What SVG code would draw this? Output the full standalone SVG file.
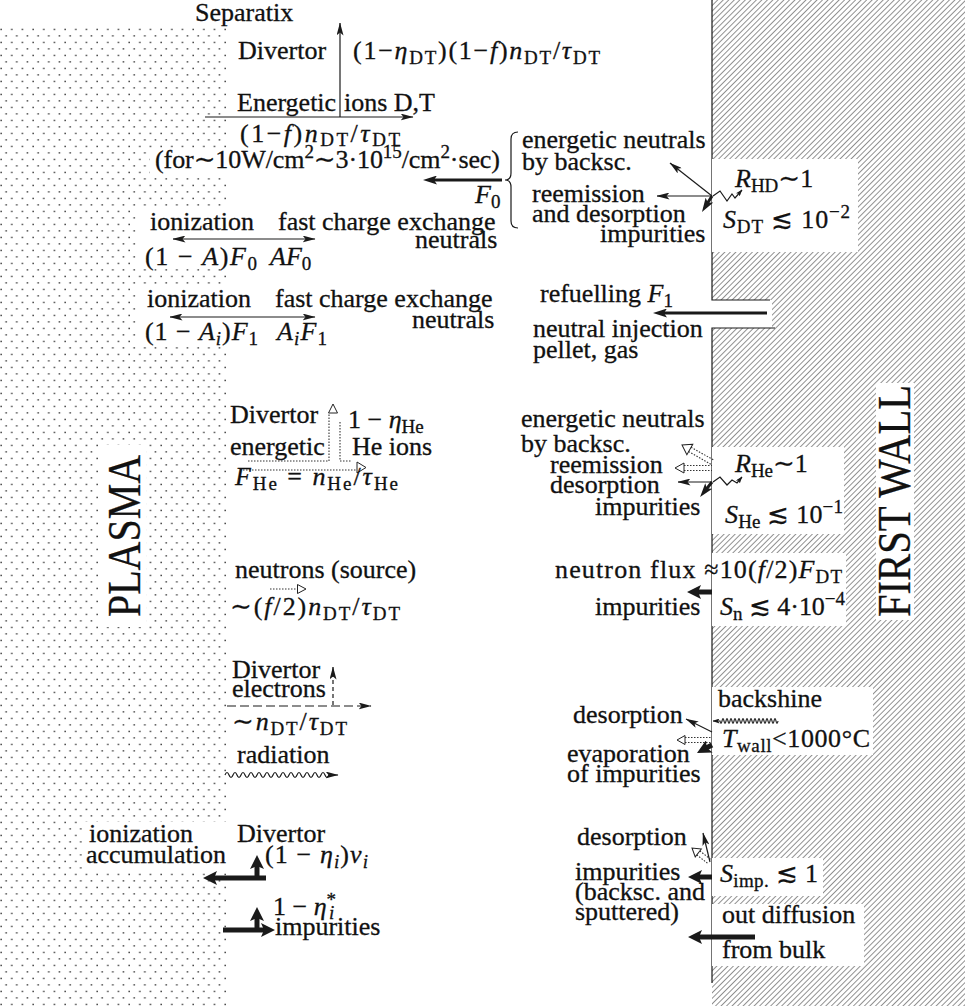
<svg xmlns="http://www.w3.org/2000/svg" width="965" height="1006" viewBox="0 0 965 1006">
<defs>
  <style>
    .t{font-family:"Liberation Serif","DejaVu Serif",serif;font-size:26px;fill:#111;stroke:#111;stroke-width:0.3}
    .i{font-style:italic}
    .s{font-size:19px}
    .big{font-size:46px}
    .ln{stroke:#1a1a1a;stroke-width:1.2;fill:none}
    .th{stroke:#1a1a1a;stroke-width:3;fill:none}
    .tk{stroke:#1a1a1a;stroke-width:5;fill:none}
    .dt{stroke:#333;stroke-width:1.1;stroke-dasharray:1.5 1.5;fill:none}
    .hd{stroke:#222;stroke-width:1;fill:#fff}
    .box{fill:#fff}
  </style>
  <pattern id="dots" x="0" y="28" width="10.67" height="13" patternUnits="userSpaceOnUse">
    <rect x="0.4" y="0.7" width="1.5" height="1.5" fill="#444"/>
    <rect x="5.4" y="7.1" width="1.5" height="1.5" fill="#444"/>
  </pattern>
  <pattern id="hatch" width="3.9" height="3.9" patternUnits="userSpaceOnUse" patternTransform="rotate(45)">
    <line x1="0" y1="0" x2="0" y2="3.9" stroke="#222" stroke-width="1"/>
  </pattern>
  <marker id="a" viewBox="0 0 13 7" refX="12.5" refY="3.5" markerWidth="13" markerHeight="7" orient="auto-start-reverse" markerUnits="userSpaceOnUse">
    <path d="M0,0 L13,3.5 L0,7 L3,3.5 z" fill="#1a1a1a"/>
  </marker>
  <marker id="sm" viewBox="0 0 7 5" refX="6.5" refY="2.5" markerWidth="7" markerHeight="5" orient="auto" markerUnits="userSpaceOnUse">
    <path d="M0,0 L7,2.5 L0,5 L1.5,2.5 z" fill="#1a1a1a"/>
  </marker>
  <marker id="A" viewBox="0 0 14 9" refX="4" refY="4.5" markerWidth="14" markerHeight="9" orient="auto" markerUnits="userSpaceOnUse">
    <path d="M0,0 L14,4.5 L0,9 L3,4.5 z" fill="#1a1a1a"/>
  </marker>
  <marker id="B" viewBox="0 0 14 14" refX="4" refY="7" markerWidth="14" markerHeight="14" orient="auto" markerUnits="userSpaceOnUse">
    <path d="M0,0 L14,7 L0,14 L3,7 z" fill="#1a1a1a"/>
  </marker>
  <marker id="o" viewBox="0 0 10 10" refX="9" refY="5" markerWidth="10" markerHeight="10" orient="auto" markerUnits="userSpaceOnUse">
    <path d="M0.5,0.5 L9,5 L0.5,9.5 z" fill="#fff" stroke="#222" stroke-width="1"/>
  </marker>
</defs>

<rect width="965" height="1006" fill="#fff"/>

<!-- plasma region (stippled) -->
<g id="plasma">
  <rect x="0" y="28" width="228" height="978" fill="url(#dots)"/>
  <rect class="box" x="137" y="207" width="93" height="62"/>
  <rect class="box" x="137" y="286" width="93" height="60"/>
  <rect class="box" x="150" y="148" width="80" height="26"/>
  <rect class="box" x="82" y="822" width="150" height="50"/>
  <rect class="box" x="98" y="445" width="48" height="182"/>
  <text class="t big" transform="translate(140,617) rotate(-90)" textLength="162" lengthAdjust="spacingAndGlyphs">PLASMA</text>
</g>

<!-- first wall (hatched) -->
<g id="wall">
  <rect x="712" y="0" width="253" height="1006" fill="url(#hatch)"/>
  <rect class="box" x="712" y="300" width="60" height="28"/>
  <path class="ln" d="M712,0 V300 H770 M712,983 V328 H775"/>
  <rect class="box" x="712" y="159" width="146" height="93"/>
  <rect class="box" x="712" y="447" width="132" height="87"/>
  <rect class="box" x="712" y="553" width="134" height="73"/>
  <rect class="box" x="876" y="383" width="38" height="237"/>
  <rect class="box" x="712" y="687" width="161" height="68"/>
  <rect class="box" x="712" y="858" width="111" height="38"/>
  <rect class="box" x="712" y="904" width="152" height="62"/>
  <text class="t big" transform="translate(910,617) rotate(-90)" textLength="232" lengthAdjust="spacingAndGlyphs">FIRST WALL</text>
</g>

<!-- connectors -->
<g id="connectors">
  <!-- D,T ions -->
  <line class="ln" x1="340" y1="117" x2="340" y2="23" marker-end="url(#a)"/>
  <line class="ln" x1="205" y1="117" x2="413" y2="117" marker-end="url(#a)"/>
  <line class="th" x1="502" y1="180" x2="433" y2="180" marker-end="url(#A)"/>
  <path class="ln" d="M518,132 Q511,132 511,139 V173 Q511,180 505,180 Q511,180 511,187 V221 Q511,228 518,228"/>
  <line class="ln" x1="173" y1="239" x2="315" y2="239" marker-start="url(#a)" marker-end="url(#a)"/>
  <line class="ln" x1="170" y1="317" x2="315" y2="317" marker-start="url(#a)" marker-end="url(#a)"/>
  <!-- wall interaction, D,T -->
  <line class="ln" x1="712" y1="196" x2="670" y2="163" marker-end="url(#a)"/>
  <line class="ln" x1="712" y1="196" x2="657" y2="196" marker-end="url(#a)"/>
  <line class="th" x1="712" y1="196" x2="707.3" y2="203.5" marker-end="url(#A)"/>
  <polyline class="ln" points="713,196 720,191 727,201 732,194 735,198 742,190" marker-end="url(#sm)"/>
  <!-- refuelling -->
  <line class="th" x1="767" y1="313" x2="663" y2="313" marker-end="url(#A)"/>
  <!-- He ions -->
  <path class="dt" d="M248,461 H329 V413 M340,422 V461 H352 M243,470 H357"/>
  <path class="hd" d="M328.5,413 L337.5,413 L333,404 z"/>
  <path class="hd" d="M357,462 L366,467.5 L357,473 z"/>
  <!-- wall interaction, He -->
  <g transform="translate(682,445) rotate(29.5)">
    <path class="hd" d="M9,-6 L0,0 L9,6 z"/>
    <path class="dt" d="M9,-2.5 H35 M9,2.5 H35"/>
  </g>
  <g transform="translate(675,468)">
    <path class="hd" d="M9,-5 L0,0 L9,5 z"/>
    <path class="dt" d="M9,-2.5 H37 M9,2.5 H37"/>
  </g>
  <line class="ln" x1="712" y1="482" x2="678" y2="482" marker-end="url(#a)"/>
  <line class="th" x1="712" y1="482" x2="706.3" y2="489.2" marker-end="url(#A)"/>
  <polyline class="ln" points="713,482 720,477 727,485 732,480 737,483 742,477" marker-end="url(#sm)"/>
  <!-- neutrons -->
  <line class="dt" x1="270" y1="589" x2="306" y2="589" marker-end="url(#o)"/>
  <line class="tk" x1="712" y1="592" x2="697" y2="592" marker-end="url(#B)"/>
  <!-- electrons -->
  <line class="ln" x1="333" y1="705" x2="333" y2="667" stroke-dasharray="4 3" marker-end="url(#a)"/>
  <line class="ln" x1="227" y1="706" x2="371" y2="706" stroke-dasharray="9 4" marker-end="url(#a)"/>
  <!-- radiation -->
  <path class="ln" d="M225,775 q2,-5 4,0 t4,0 t4,0 t4,0 t4,0 t4,0 t4,0 t4,0 t4,0 t4,0 t4,0 t4,0 t4,0 t4,0 t4,0 t4,0 t4,0 t4,0 t4,0 t4,0 t4,0 t4,0 t4,0 t4,0 t4,0 t4,0 L338,775" marker-end="url(#a)"/>
  <!-- backshine -->
  <path class="ln" d="M778,721 q-1,5 -2,0 t-2,0 t-2,0 t-2,0 t-2,0 t-2,0 t-2,0 t-2,0 t-2,0 t-2,0 t-2,0 t-2,0 t-2,0 t-2,0 t-2,0 t-2,0 t-2,0 t-2,0 t-2,0 t-2,0 t-2,0 t-2,0 t-2,0 t-2,0 t-2,0 t-2,0 t-2,0 t-2,0 t-2,0 L713,721" marker-end="url(#sm)"/>
  <line class="ln" x1="712" y1="732" x2="686" y2="719" marker-end="url(#a)"/>
  <g transform="translate(677,740)">
    <path class="hd" d="M8,-4.5 L0,0 L8,4.5 z"/>
    <path class="dt" d="M8,-2.5 H35 M8,2.5 H35"/>
  </g>
  <line class="tk" x1="712" y1="745" x2="705.8" y2="748.3" marker-end="url(#B)"/>
  <!-- impurities, bottom left -->
  <path class="tk" d="M257,880 V865" marker-end="url(#B)"/>
  <path class="tk" d="M266,878 H213" marker-end="url(#B)"/>
  <path class="tk" d="M257,932 V917" marker-end="url(#B)"/>
  <path class="tk" d="M223,930 H265" marker-end="url(#B)"/>
  <!-- impurities, bottom right -->
  <line class="ln" x1="710" y1="862" x2="703" y2="833" marker-end="url(#a)"/>
  <g transform="translate(692,848) rotate(37.9)">
    <path class="hd" d="M8,-5 L0,0 L8,5 z"/>
    <path class="dt" d="M8,-2.5 H23 M8,2.5 H23"/>
  </g>
  <line class="tk" x1="712" y1="877" x2="698" y2="877" marker-end="url(#B)"/>
  <line class="tk" x1="755" y1="937" x2="698" y2="937" marker-end="url(#B)"/>
</g>

<!-- labels -->
<g id="n-dt">
  <text class="t" x="195" y="21">Separatix</text>
  <text class="t" x="238" y="59">Divertor</text>
  <text class="t" x="353" y="59" textLength="247">(1−<tspan class="i">η</tspan><tspan class="s" dy="5">DT</tspan><tspan dy="-5">)(1−</tspan><tspan class="i">f</tspan>)<tspan class="i">n</tspan><tspan class="s" dy="5">DT</tspan><tspan dy="-5">/</tspan><tspan class="i">τ</tspan><tspan class="s" dy="5">DT</tspan></text>
  <text class="t" x="237" y="111">Energetic</text>
  <text class="t" x="344" y="111">ions D,T</text>
  <text class="t" x="240" y="142" textLength="160">(1−<tspan class="i">f</tspan>)<tspan class="i">n</tspan><tspan class="s" dy="4">DT</tspan><tspan dy="-4">/</tspan><tspan class="i">τ</tspan><tspan class="s" dy="4">DT</tspan></text>
  <text class="t" x="155" y="168" textLength="345">(for∼10W/cm<tspan class="s" dy="-10">2</tspan><tspan dy="10">∼3·10</tspan><tspan class="s" dy="-10">15</tspan><tspan dy="10">/cm</tspan><tspan class="s" dy="-10">2</tspan><tspan dy="10">·sec)</tspan></text>
  <text class="t" x="475" y="203"><tspan class="i">F</tspan><tspan class="s" dy="5">0</tspan></text>
</g>
<g id="n-cx0">
  <text class="t" x="150" y="230">ionization</text>
  <text class="t" x="278" y="230">fast charge exchange</text>
  <text class="t" x="415" y="248">neutrals</text>
  <text class="t" x="145" y="265" textLength="112">(1 − <tspan class="i">A</tspan>)<tspan class="i">F</tspan><tspan class="s" dy="5">0</tspan></text>
  <text class="t" x="270" y="265"><tspan class="i">AF</tspan><tspan class="s" dy="5">0</tspan></text>
</g>
<g id="n-cx1">
  <text class="t" x="147" y="307">ionization</text>
  <text class="t" x="275" y="307">fast charge exchange</text>
  <text class="t" x="412" y="328">neutrals</text>
  <text class="t" x="145" y="340" textLength="113">(1 − <tspan class="i">A</tspan><tspan class="s i" dy="5">i</tspan><tspan dy="-5">)</tspan><tspan class="i">F</tspan><tspan class="s" dy="5">1</tspan></text>
  <text class="t" x="277" y="340" textLength="50"><tspan class="i">A</tspan><tspan class="s i" dy="5">i</tspan><tspan class="i" dy="-5">F</tspan><tspan class="s" dy="5">1</tspan></text>
</g>
<g id="n-wall-dt">
  <text class="t" x="522" y="148">energetic neutrals</text>
  <text class="t" x="522" y="170">by backsc.</text>
  <text class="t" x="532" y="202">reemission</text>
  <text class="t" x="532" y="222">and desorption</text>
  <text class="t" x="600" y="242">impurities</text>
  <text class="t" x="735" y="187"><tspan class="i">R</tspan><tspan class="s" dy="5">HD</tspan><tspan dy="-5">∼1</tspan></text>
  <text class="t" x="723" y="228" textLength="127"><tspan class="i">S</tspan><tspan class="s" dy="5">DT</tspan><tspan dy="-5"> ≲ 10</tspan><tspan class="s" dy="-10">−2</tspan></text>
</g>
<g id="n-refuel">
  <text class="t" x="540" y="302">refuelling <tspan class="i">F</tspan><tspan class="s" dy="5">1</tspan></text>
  <text class="t" x="533" y="337">neutral injection</text>
  <text class="t" x="533" y="358">pellet, gas</text>
</g>
<g id="n-he">
  <text class="t" x="230" y="423">Divertor</text>
  <text class="t" x="348" y="428">1 − <tspan class="i">η</tspan><tspan class="s" dy="5">He</tspan></text>
  <text class="t" x="230" y="455">energetic</text>
  <text class="t" x="352" y="455">He ions</text>
  <text class="t" x="235" y="485" textLength="163"><tspan class="i">F</tspan><tspan class="s" dy="5">He</tspan><tspan dy="-5"> = </tspan><tspan class="i">n</tspan><tspan class="s" dy="5">He</tspan><tspan dy="-5">/</tspan><tspan class="i">τ</tspan><tspan class="s" dy="5">He</tspan></text>
</g>
<g id="n-wall-he">
  <text class="t" x="521" y="427">energetic neutrals</text>
  <text class="t" x="521" y="452">by backsc.</text>
  <text class="t" x="550" y="473">reemission</text>
  <text class="t" x="550" y="493">desorption</text>
  <text class="t" x="595" y="515">impurities</text>
  <text class="t" x="735" y="472"><tspan class="i">R</tspan><tspan class="s" dy="5">He</tspan><tspan dy="-5">∼1</tspan></text>
  <text class="t" x="725" y="523" textLength="118"><tspan class="i">S</tspan><tspan class="s" dy="5">He</tspan><tspan dy="-5"> ≲ 10</tspan><tspan class="s" dy="-10">−1</tspan></text>
</g>
<g id="n-neutrons">
  <text class="t" x="235" y="578">neutrons (source)</text>
  <text class="t" x="230" y="615" textLength="170">∼(<tspan class="i">f</tspan>/2)<tspan class="i">n</tspan><tspan class="s" dy="5">DT</tspan><tspan dy="-5">/</tspan><tspan class="i">τ</tspan><tspan class="s" dy="5">DT</tspan></text>
  <text class="t" x="555" y="578" textLength="287">neutron flux ≈10(<tspan class="i">f</tspan>/2)<tspan class="i">F</tspan><tspan class="s" dy="5">DT</tspan></text>
  <text class="t" x="595" y="615">impurities</text>
  <text class="t" x="720" y="615" textLength="125"><tspan class="i">S</tspan><tspan class="s" dy="5">n</tspan><tspan dy="-5"> ≲ 4·10</tspan><tspan class="s" dy="-10">−4</tspan></text>
</g>
<g id="n-electrons">
  <text class="t" x="232" y="678">Divertor</text>
  <text class="t" x="232" y="697">electrons</text>
  <text class="t" x="232" y="730" textLength="115">∼<tspan class="i">n</tspan><tspan class="s" dy="5">DT</tspan><tspan dy="-5">/</tspan><tspan class="i">τ</tspan><tspan class="s" dy="5">DT</tspan></text>
  <text class="t" x="237" y="763">radiation</text>
</g>
<g id="n-backshine">
  <text class="t" x="718" y="707">backshine</text>
  <text class="t" x="573" y="723">desorption</text>
  <text class="t" x="722" y="747" textLength="148"><tspan class="i">T</tspan><tspan class="s" dy="5">wall</tspan><tspan dy="-5">&lt;1000°C</tspan></text>
  <text class="t" x="567" y="762">evaporation</text>
  <text class="t" x="567" y="782">of impurities</text>
</g>
<g id="n-imp-left">
  <text class="t" x="89" y="842">ionization</text>
  <text class="t" x="86" y="863">accumulation</text>
  <text class="t" x="237" y="842">Divertor</text>
  <text class="t" x="265" y="863" textLength="103">(1 − <tspan class="i">η</tspan><tspan class="s i" dy="5">i</tspan><tspan dy="-5">)</tspan><tspan class="i">ν</tspan><tspan class="s i" dy="5">i</tspan></text>
  <text class="t" x="273" y="915">1 − <tspan class="i">η</tspan><tspan class="s" dy="-9">*</tspan><tspan class="s i" dx="-7" dy="13">i</tspan></text>
  <text class="t" x="275" y="935">impurities</text>
</g>
<g id="n-imp-right">
  <text class="t" x="577" y="845">desorption</text>
  <text class="t" x="575" y="880">impurities</text>
  <text class="t" x="720" y="882" textLength="98"><tspan class="i">S</tspan><tspan class="s" dy="5">imp.</tspan><tspan dy="-5"> ≲ 1</tspan></text>
  <text class="t" x="575" y="900">(backsc. and</text>
  <text class="t" x="575" y="920">sputtered)</text>
  <text class="t" x="722" y="923">out diffusion</text>
  <text class="t" x="722" y="958">from bulk</text>
</g>
</svg>
